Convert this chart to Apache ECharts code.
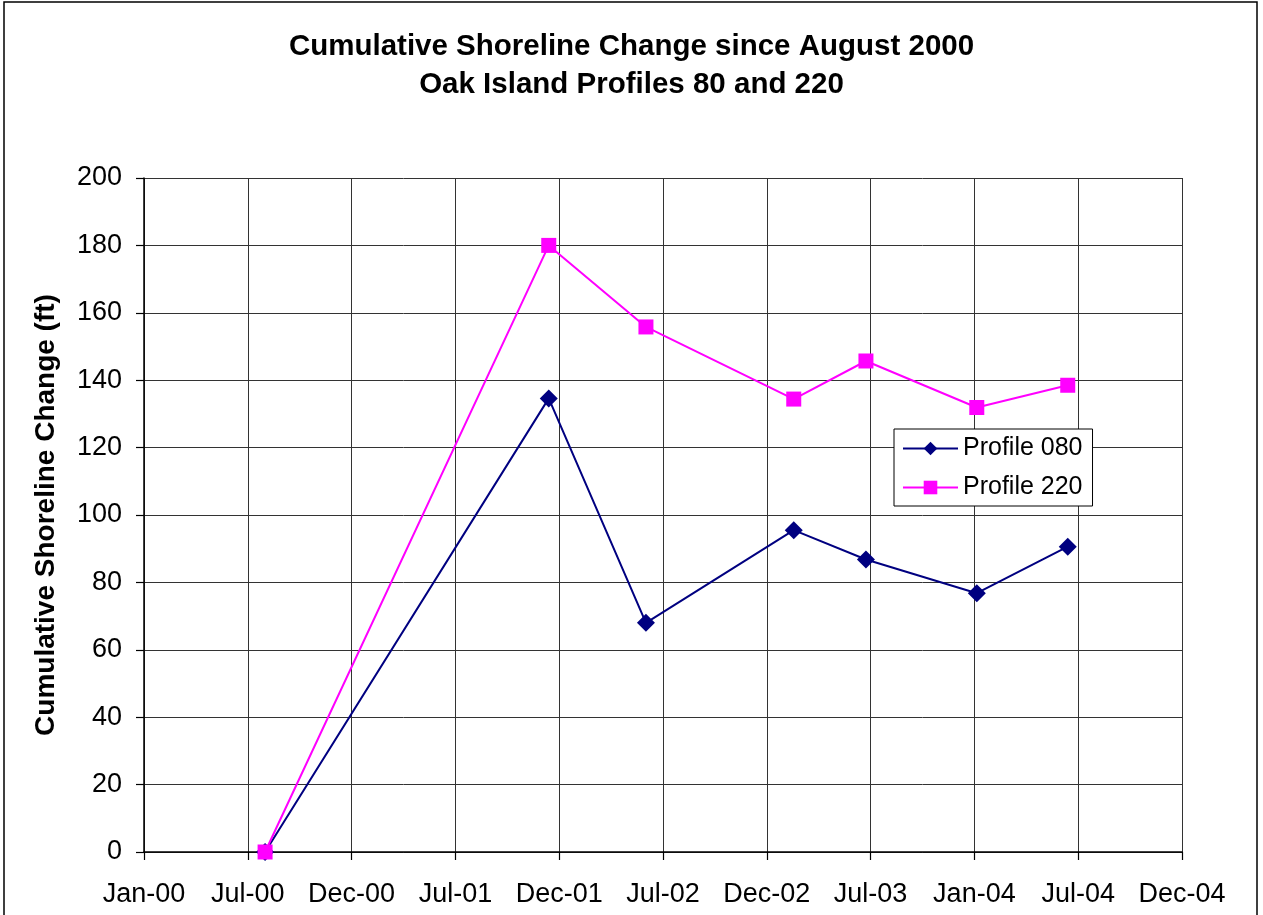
<!DOCTYPE html>
<html>
<head>
<meta charset="utf-8">
<script src="https://cdn.jsdelivr.net/npm/echarts@6/dist/echarts.min.js"></script>
<style>
html,body{margin:0;padding:0;background:#fff;}
#chart{width:1263px;height:915px;}
</style>
</head>
<body>
<div id="chart"></div>
<script>
// ---- data ----
var titleLines = ['Cumulative Shoreline Change since August 2000', 'Oak Island Profiles 80 and 220'];
var yAxisTitle = 'Cumulative Shoreline Change (ft)';
var xTickLabels = ['Jan-00','Jul-00','Dec-00','Jul-01','Dec-01','Jul-02','Dec-02','Jul-03','Jan-04','Jul-04','Dec-04'];
var surveyDates = ['2000-08-01','2001-12-13','2002-06-02','2003-02-17','2003-06-24','2004-01-05','2004-06-13'];
var profile080 = [0, 134.6, 68.0, 95.5, 86.8, 76.8, 90.6];
var profile220 = [0, 180.0, 155.8, 134.4, 145.7, 131.9, 138.5];
var seriesNames = ['Profile 080', 'Profile 220'];

// ---- scale helpers ----
var baseDate = Date.UTC(2000, 0, 1);
var DAY = 86400000;
var axisSpanDays = 1826;
var tickStep = axisSpanDays / (xTickLabels.length - 1);
function toDays(s) {
  var p = s.split('-');
  return (Date.UTC(+p[0], +p[1] - 1, +p[2]) - baseDate) / DAY;
}
function pairs(vals) {
  return surveyDates.map(function (d, i) { return [toDays(d), vals[i]]; });
}

var FONT = '"Liberation Sans", Arial, sans-serif';
var chart = echarts.init(document.getElementById('chart'), null, {renderer: 'canvas'});
chart.setOption({
  animation: false,
  backgroundColor: '#fff',
  textStyle: {fontFamily: FONT, color: '#000'},
  title: {
    text: titleLines.join('\n'),
    left: 'center',
    top: 23,
    textStyle: {fontFamily: FONT, fontSize: 29.5, fontWeight: 'bold', color: '#000', lineHeight: 38}
  },
  graphic: [{
    type: 'rect',
    shape: {x: 4, y: 2, width: 1253, height: 960},
    style: {fill: 'none', stroke: '#000', lineWidth: 1.5},
    silent: true, z: 100
  }],
  legend: {
    orient: 'vertical',
    left: 894,
    top: 429,
    itemWidth: 55,
    itemHeight: 17,
    itemGap: 14,
    padding: [7, 10, 6, 8],
    borderColor: '#000',
    borderWidth: 1,
    backgroundColor: '#fff',
    textStyle: {fontFamily: FONT, fontSize: 25, color: '#000'},
    data: seriesNames
  },
  grid: {left: 144, right: 81, top: 178, bottom: 63, containLabel: false, show: false},
  xAxis: {
    type: 'value',
    min: 0,
    max: axisSpanDays,
    interval: tickStep,
    axisLine: {show: true, lineStyle: {color: '#000', width: 1.5}},
    axisTick: {show: true, inside: false, length: 8, lineStyle: {color: '#000', width: 1.2}},
    axisLabel: {
      margin: 29,
      fontFamily: FONT, fontSize: 27, color: '#000',
      formatter: function (v) { return xTickLabels[Math.round(v / tickStep)] || ''; }
    },
    splitLine: {show: true, lineStyle: {color: '#333', width: 1}}
  },
  yAxis: {
    type: 'value',
    min: 0,
    max: 200,
    interval: 20,
    name: yAxisTitle,
    nameLocation: 'middle',
    nameGap: 84,
    nameTextStyle: {fontFamily: FONT, fontSize: 28, fontWeight: 'bold', color: '#000'},
    axisLine: {show: true, lineStyle: {color: '#000', width: 1.5}},
    axisTick: {show: true, inside: false, length: 8, lineStyle: {color: '#000', width: 1.2}},
    axisLabel: {margin: 22, fontFamily: FONT, fontSize: 27, color: '#000'},
    splitLine: {show: true, lineStyle: {color: '#333', width: 1}}
  },
  series: [
    {
      name: seriesNames[0],
      type: 'line',
      data: pairs(profile080),
      symbol: 'diamond',
      symbolSize: 18,
      color: '#000080',
      lineStyle: {color: '#000080', width: 2},
      itemStyle: {color: '#000080'},
      z: 3
    },
    {
      name: seriesNames[1],
      type: 'line',
      data: pairs(profile220),
      symbol: 'rect',
      symbolSize: 15,
      color: '#FF00FF',
      lineStyle: {color: '#FF00FF', width: 2},
      itemStyle: {color: '#FF00FF'},
      z: 4
    }
  ]
});
</script>
</body>
</html>
